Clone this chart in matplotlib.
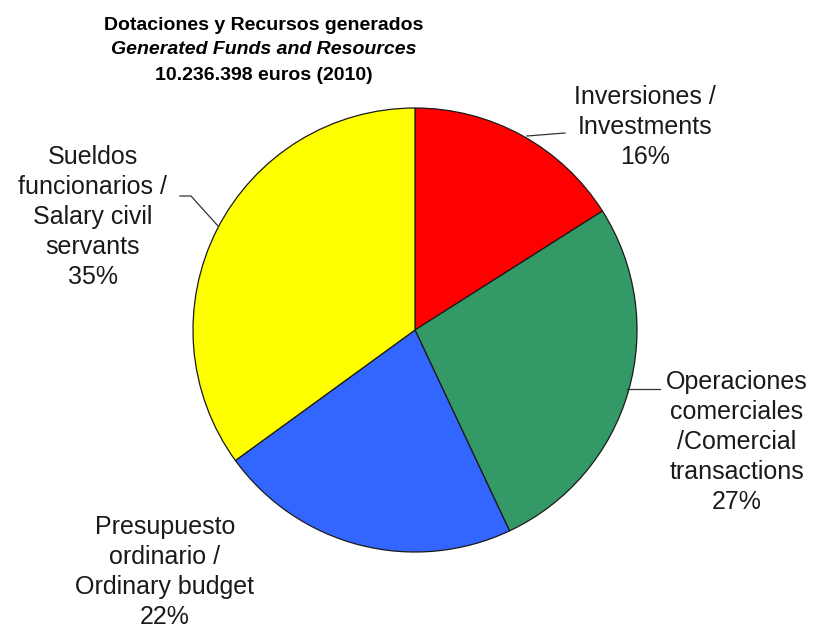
import matplotlib
matplotlib.use('Agg')
import matplotlib.pyplot as plt

# Dotaciones y recursos generados, 2010
categories = ['Inversiones / Investments',
              'Operaciones comerciales / Comercial transactions',
              'Presupuesto ordinario / Ordinary budget',
              'Sueldos funcionarios / Salary civil servants']
shares = [16, 27, 22, 35]
label_lines = [
    ['Inversiones /', 'Investments'],
    ['Operaciones', 'comerciales', '/Comercial', 'transactions'],
    ['Presupuesto', 'ordinario /', 'Ordinary budget'],
    ['Sueldos', 'funcionarios /', 'Salary civil', 'servants'],
]
colors = ['#FF0000', '#339966', '#3366FF', '#FFFF00']

W, H = 817, 631
plt.rcParams['font.family'] = ['Liberation Sans', 'DejaVu Sans']

fig = plt.figure(figsize=(W / 100, H / 100), dpi=100)
ax = fig.add_axes([0, 0, 1, 1])


def Y(y):
    # pixel rows are counted from the top
    return H - y


ax.pie(shares, colors=colors, startangle=90, counterclock=False,
       center=(415, Y(330)), radius=222,
       wedgeprops=dict(edgecolor='#1a1a1a', linewidth=0.9))

ax.set_xlim(0, W)
ax.set_ylim(0, H)
ax.set_aspect('equal')
ax.axis('off')

# title block
title_kw = dict(ha='center', va='center', fontsize=14, fontweight='bold')
ax.text(264, Y(25), 'Dotaciones y Recursos generados', **title_kw)
ax.text(264, Y(50), 'Generated Funds and Resources', style='italic', **title_kw)
ax.text(264, Y(75), '10.236.398 euros (2010)', **title_kw)

# slice labels: (centre x, first line y)
label_pos = [(645, 97), (737, 382), (165, 527), (93, 157)]
step = 30
for lines, share, (lx, ly) in zip(label_lines, shares, label_pos):
    for i, line in enumerate(lines + ['%d%%' % share]):
        ax.text(lx, Y(ly + i * step), line, ha='center', va='center',
                fontsize=18, color='#1a1a1a')

# leader lines
ax.plot([527, 565], [Y(136), Y(133)], color='#333333', lw=0.9)
ax.plot([180, 191, 218], [Y(196), Y(196), Y(226)], color='#333333', lw=0.9)
ax.plot([627, 660], [Y(389), Y(389)], color='#333333', lw=0.9)

fig.savefig('out.png', dpi=100)
